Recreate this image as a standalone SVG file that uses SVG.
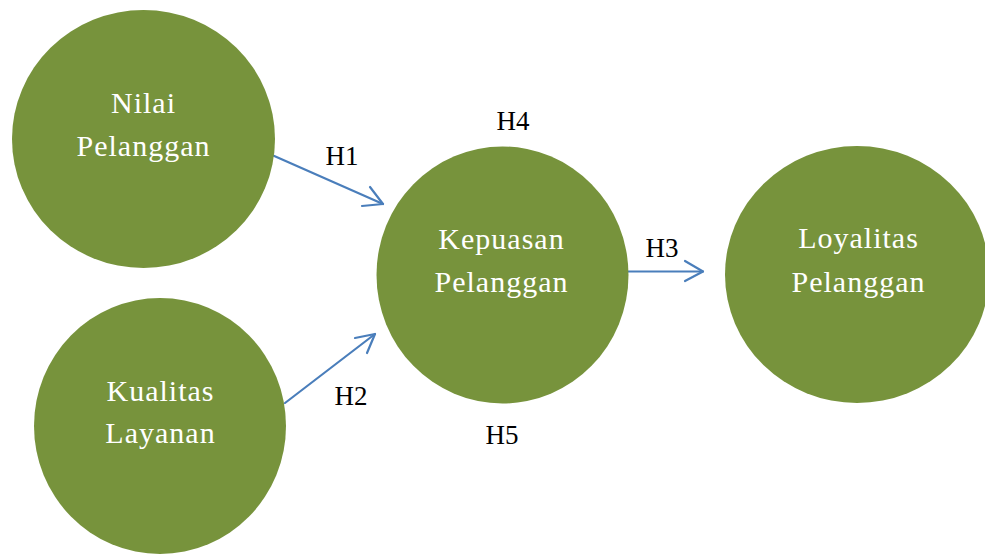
<svg xmlns="http://www.w3.org/2000/svg" width="985" height="554" viewBox="0 0 985 554">
<defs>
<style>
.node{fill:#77933C;}
.conn{stroke:#4A7EBB;stroke-width:2.2;fill:none;stroke-linecap:round;stroke-linejoin:round;}
</style>
</defs>
<rect width="985" height="554" fill="#FFFFFF"/>
<g id="connectors">
<path class="conn" d="M272,155 L383,204"/>
<path class="conn" d="M370,187 L383,204 L362,206"/>
<path class="conn" d="M285,403 L375,334"/>
<path class="conn" d="M355,338 L375,334 L367,353"/>
<path class="conn" d="M628,271.5 L703,271.5"/>
<path class="conn" d="M685,261 L703,271.5 L685,281"/>
</g>
<g font-family="Liberation Serif, Times New Roman, serif" font-size="30" fill="#FFFFFF" text-anchor="middle" letter-spacing="1">
<g id="nilai-pelanggan">
<ellipse class="node" cx="143.5" cy="139" rx="131.5" ry="129"/>
<text x="143.5" y="113">Nilai</text>
<text x="143.5" y="156">Pelanggan</text>
</g>
<g id="kualitas-layanan">
<ellipse class="node" cx="160" cy="426" rx="126" ry="128"/>
<text x="160.5" y="401">Kualitas</text>
<text x="160.5" y="443">Layanan</text>
</g>
<g id="kepuasan-pelanggan">
<ellipse class="node" cx="502.5" cy="275" rx="126" ry="128.5"/>
<text x="501.5" y="249">Kepuasan</text>
<text x="501.5" y="292">Pelanggan</text>
</g>
<g id="loyalitas-pelanggan">
<ellipse class="node" cx="857" cy="274.5" rx="132" ry="128.5"/>
<text x="858.5" y="248">Loyalitas</text>
<text x="858.5" y="292">Pelanggan</text>
</g>
</g>
<g id="labels" font-family="Liberation Serif, Times New Roman, serif" font-size="27" fill="#000000" text-anchor="middle">
<text x="342" y="165">H1</text>
<text x="351" y="405">H2</text>
<text x="662" y="257">H3</text>
<text x="513" y="130">H4</text>
<text x="502" y="444">H5</text>
</g>
</svg>
